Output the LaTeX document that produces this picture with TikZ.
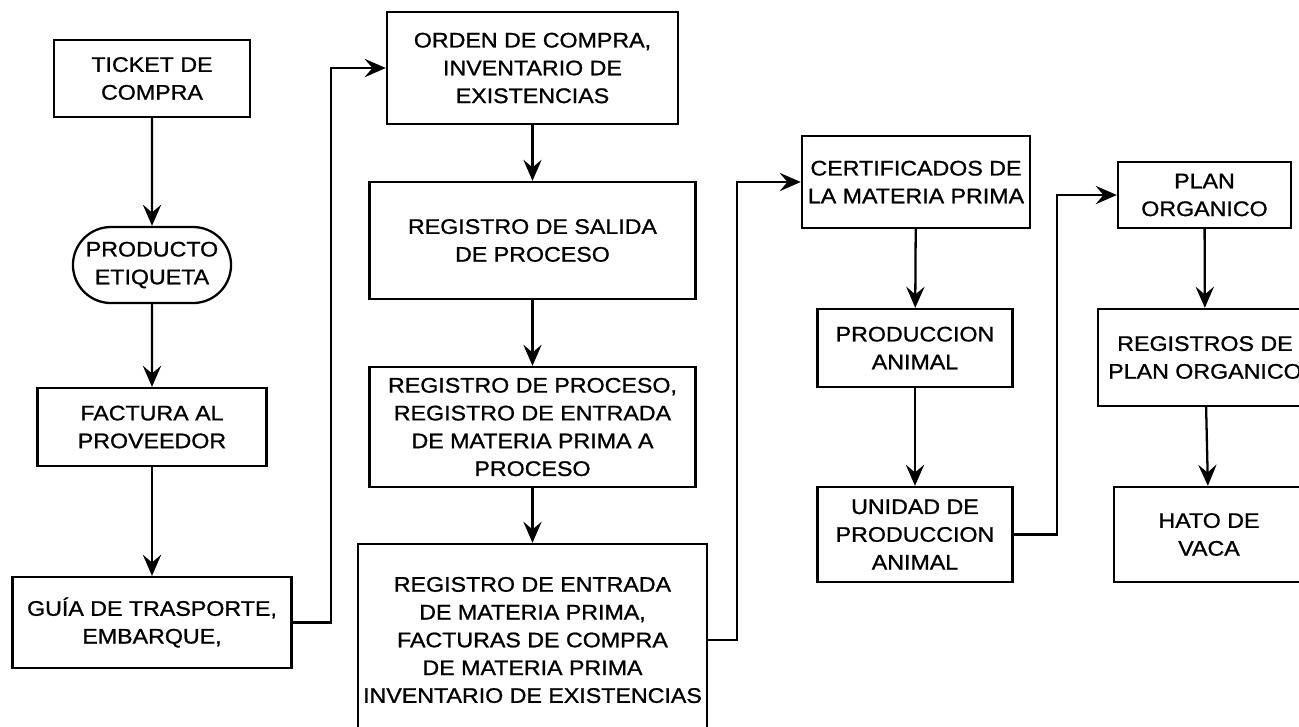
\documentclass[tikz,border=0pt]{standalone}
\usepackage{fontspec}
\setmainfont[FakeStretch=1.1, FakeBold=1]{Liberation Sans}
\usetikzlibrary{arrows.meta, shapes.misc}

\begin{document}
\begin{tikzpicture}[x=0.01cm, y=-0.01cm,
  box/.style={rectangle, draw, line width=0.65pt, align=center, inner sep=0pt, font=\fontsize{6}{7.9}\selectfont},
  flow/.style={-{Stealth[length=6pt, width=5.2pt, inset=2.2pt]}, line width=0.65pt}]
  \useasboundingbox (0,0) rectangle (1299,726);
  \clip (0,0) rectangle (1299,726);
  % Nodes
  \node (ticket) [box, minimum width=1.96cm, minimum height=0.77cm] at (152, 78.5) {TICKET DE\\COMPRA};
  \node (producto) [box, rounded rectangle, minimum width=1.58cm, minimum height=0.76cm] at (152, 265) {PRODUCTO\\ETIQUETA};
  \node (factura) [box, minimum width=2.29cm, minimum height=0.78cm] at (152, 427) {FACTURA AL\\PROVEEDOR};
  \node (guia) [box, minimum width=2.79cm, minimum height=0.91cm] at (152, 622.5) {GUÍA DE TRASPORTE,\\EMBARQUE,};
  \node (orden) [box, minimum width=2.91cm, minimum height=1.12cm] at (532.5, 68) {ORDEN DE COMPRA,\\INVENTARIO DE\\EXISTENCIAS};
  \node (salida) [box, minimum width=3.26cm, minimum height=1.17cm] at (532.5, 240.5) {REGISTRO DE SALIDA\\DE PROCESO};
  \node (proceso) [box, minimum width=3.26cm, minimum height=1.2cm] at (532.5, 427) {REGISTRO DE PROCESO,\\REGISTRO DE ENTRADA\\DE MATERIA PRIMA A\\PROCESO};
  \node (entrada) [box, minimum width=3.49cm, minimum height=1.92cm] at (532.5, 640) {REGISTRO DE ENTRADA\\DE MATERIA PRIMA,\\FACTURAS DE COMPRA\\DE MATERIA PRIMA\\INVENTARIO DE EXISTENCIAS};
  \node (certif) [box, minimum width=2.28cm, minimum height=0.92cm] at (916, 182) {CERTIFICADOS DE\\LA MATERIA PRIMA};
  \node (prodanimal) [box, minimum width=1.95cm, minimum height=0.78cm] at (915, 348) {PRODUCCION\\ANIMAL};
  \node (unidad) [box, minimum width=1.95cm, minimum height=0.95cm] at (915, 534.5) {UNIDAD DE\\PRODUCCION\\ANIMAL};
  \node (plan) [box, minimum width=1.73cm, minimum height=0.66cm] at (1204.5, 195) {PLAN\\ORGANICO};
  \node (regplan) [box, minimum width=2.14cm, minimum height=0.97cm] at (1205, 357.5) {REGISTROS DE\\PLAN ORGANICO};
  \node (hato) [box, minimum width=1.9cm, minimum height=0.95cm] at (1209, 534.5) {HATO DE\\VACA};
  \coordinate (bendA) at (331, 622.5);
  \coordinate (bendB) at (737, 640);
  \coordinate (bendC) at (1057, 534.5);
  % Arrow
  \draw[flow] (ticket) -- (producto);
  \draw[flow] (producto) -- (factura);
  \draw[flow] (factura) -- (guia);
  \draw[flow] (guia.east) -- (bendA) |- (orden.west);
  \draw[flow] (orden) -- (salida);
  \draw[flow] (salida) -- (proceso);
  \draw[flow] (proceso) -- (entrada);
  \draw[flow] (entrada.east) -- (bendB) |- (certif.west);
  \draw[flow] (certif) -- (prodanimal);
  \draw[flow] (prodanimal) -- (unidad);
  \draw[flow] (unidad.east) -- (bendC) |- (plan.west);
  \draw[flow] (plan) -- (regplan);
  \draw[flow] (regplan) -- (hato);
\end{tikzpicture}
\end{document}
